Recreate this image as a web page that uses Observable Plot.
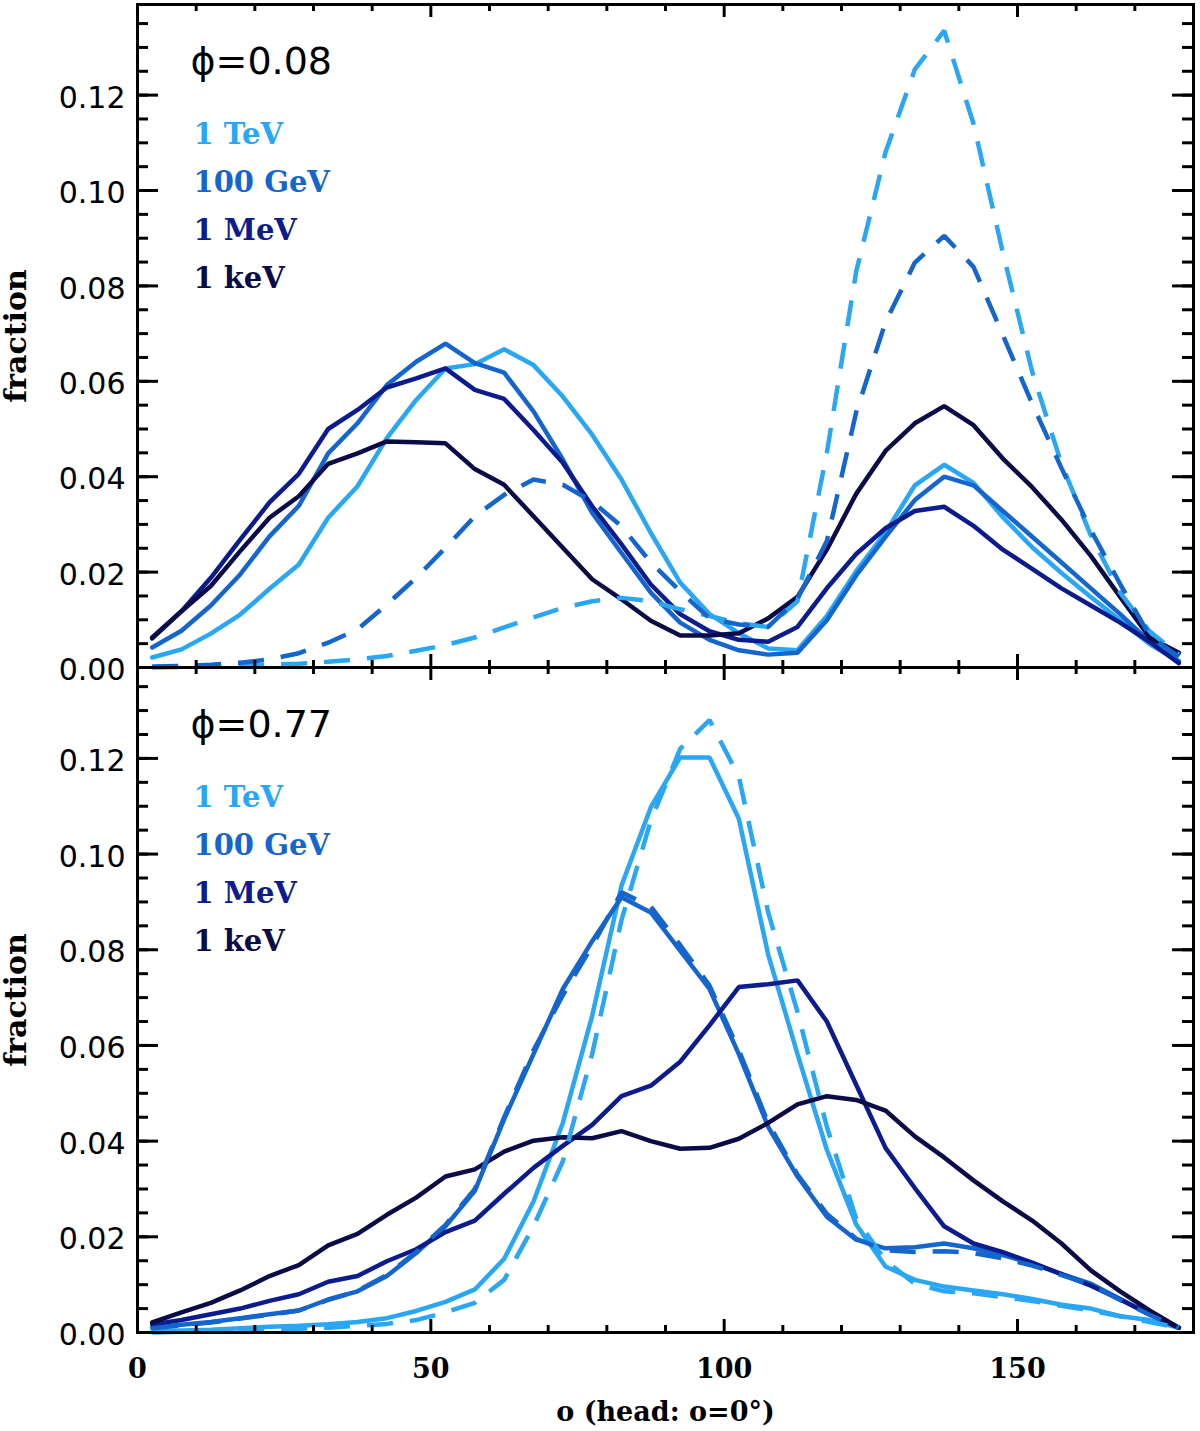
<!DOCTYPE html>
<html>
<head>
<meta charset="utf-8">
<script src="https://cdn.jsdelivr.net/npm/d3@7"></script>
<script src="https://cdn.jsdelivr.net/npm/@observablehq/plot@0.6"></script>
<style>
  body { margin: 0; background: white; }
  #chart { position: relative; width: 1200px; height: 1431px; }
  #chart svg { position: absolute; left: 0; overflow: visible; background: none; }
</style>
</head>
<body>
<div id="chart"></div>
<script>
const angles = [2.5, 7.5, 12.5, 17.5, 22.5, 27.5, 32.5, 37.5, 42.5, 47.5, 52.5, 57.5,
  62.5, 67.5, 72.5, 77.5, 82.5, 87.5, 92.5, 97.5, 102.5, 107.5, 112.5, 117.5,
  122.5, 127.5, 132.5, 137.5, 142.5, 147.5, 152.5, 157.5, 162.5, 167.5, 172.5, 177.5];
const energies = ["1 TeV", "100 GeV", "1 MeV", "1 keV"];
const colors = ["#29a6f4", "#1565cf", "#0c1c8e", "#0b0b48"];

const xMajor = [0, 50, 100, 150];
const xMinor = [10, 20, 30, 40, 60, 70, 80, 90, 110, 120, 130, 140, 160, 170];
const yMajor = [0, 0.02, 0.04, 0.06, 0.08, 0.10, 0.12];
const yMinor = d3.range(0.005, 0.136, 0.005);
const xTitle = "o (head: o=0°)";
const yTitle = "fraction";

// phase 0.08, solid
const p08TeV = [0.0021, 0.0038, 0.0071, 0.0111, 0.0165, 0.0216, 0.0314, 0.0380, 0.0481, 0.0561, 0.0627, 0.0636,
  0.0667, 0.0634, 0.0568, 0.0488, 0.0394, 0.0282, 0.0178, 0.0112, 0.0072, 0.0040, 0.0036, 0.0108,
  0.0202, 0.0283, 0.0382, 0.0425, 0.0387, 0.0315, 0.0252, 0.0198, 0.0148, 0.0099, 0.0049, 0.0013];
const p08GeV = [0.0042, 0.0077, 0.0130, 0.0195, 0.0275, 0.0339, 0.0449, 0.0512, 0.0592, 0.0641, 0.0679, 0.0638,
  0.0618, 0.0537, 0.0436, 0.0324, 0.0240, 0.0157, 0.0094, 0.0058, 0.0036, 0.0027, 0.0031, 0.0099,
  0.0193, 0.0274, 0.0351, 0.0400, 0.0382, 0.0328, 0.0274, 0.0220, 0.0166, 0.0112, 0.0054, 0.0013];
const p08MeV = [0.0063, 0.0118, 0.0188, 0.0268, 0.0346, 0.0406, 0.0500, 0.0540, 0.0587, 0.0606, 0.0627, 0.0582,
  0.0563, 0.0498, 0.0429, 0.0338, 0.0258, 0.0174, 0.0112, 0.0076, 0.0058, 0.0054, 0.0085, 0.0166,
  0.0238, 0.0292, 0.0328, 0.0337, 0.0297, 0.0247, 0.0207, 0.0166, 0.0130, 0.0094, 0.0054, 0.0009];
const p08keV = [0.0061, 0.0118, 0.0171, 0.0244, 0.0314, 0.0359, 0.0427, 0.0449, 0.0474, 0.0472, 0.0470, 0.0416,
  0.0383, 0.0317, 0.0251, 0.0185, 0.0143, 0.0098, 0.0067, 0.0067, 0.0072, 0.0103, 0.0148, 0.0247,
  0.0364, 0.0454, 0.0512, 0.0548, 0.0508, 0.0438, 0.0378, 0.0310, 0.0234, 0.0148, 0.0063, 0.0031];
// phase 0.08, dashed
const p08TeVd = [0.0000, 0.0001, 0.0002, 0.0003, 0.0006, 0.0008, 0.0012, 0.0017, 0.0024, 0.0035, 0.0047, 0.0063,
  0.0084, 0.0105, 0.0125, 0.0139, 0.0146, 0.0139, 0.0122, 0.0108, 0.0093, 0.0085, 0.0139, 0.0450,
  0.0830, 0.1080, 0.1254, 0.1335, 0.1140, 0.0870, 0.0620, 0.0427, 0.0277, 0.0157, 0.0076, 0.0027];
const p08GeVd = [0.0002, 0.0003, 0.0006, 0.0010, 0.0017, 0.0030, 0.0052, 0.0080, 0.0132, 0.0188, 0.0251, 0.0317,
  0.0362, 0.0394, 0.0383, 0.0348, 0.0296, 0.0220, 0.0160, 0.0103, 0.0090, 0.0085, 0.0144, 0.0265,
  0.0535, 0.0724, 0.0849, 0.0905, 0.0840, 0.0697, 0.0553, 0.0418, 0.0288, 0.0175, 0.0067, 0.0022];

// phase 0.77, solid
const p77TeV = [0.0002, 0.0004, 0.0006, 0.0009, 0.0012, 0.0014, 0.0017, 0.0022, 0.0030, 0.0045, 0.0064, 0.0090,
  0.0154, 0.0274, 0.0438, 0.0662, 0.0934, 0.1098, 0.1202, 0.1202, 0.1074, 0.0790, 0.0582, 0.0382,
  0.0226, 0.0138, 0.0110, 0.0096, 0.0088, 0.0080, 0.0070, 0.0058, 0.0050, 0.0034, 0.0026, 0.0010];
const p77GeV = [0.0010, 0.0016, 0.0022, 0.0030, 0.0038, 0.0046, 0.0069, 0.0086, 0.0118, 0.0166, 0.0222, 0.0296,
  0.0446, 0.0582, 0.0718, 0.0818, 0.0910, 0.0878, 0.0798, 0.0718, 0.0582, 0.0430, 0.0326, 0.0242,
  0.0194, 0.0176, 0.0178, 0.0186, 0.0176, 0.0162, 0.0144, 0.0122, 0.0102, 0.0070, 0.0038, 0.0010];
const p77MeV = [0.0017, 0.0026, 0.0038, 0.0050, 0.0066, 0.0080, 0.0106, 0.0118, 0.0149, 0.0174, 0.0210, 0.0234,
  0.0290, 0.0344, 0.0390, 0.0434, 0.0494, 0.0516, 0.0566, 0.0642, 0.0722, 0.0728, 0.0736, 0.0650,
  0.0518, 0.0386, 0.0302, 0.0222, 0.0186, 0.0168, 0.0146, 0.0122, 0.0098, 0.0069, 0.0038, 0.0010];
const p77keV = [0.0021, 0.0042, 0.0062, 0.0088, 0.0118, 0.0141, 0.0182, 0.0206, 0.0246, 0.0282, 0.0326, 0.0341,
  0.0378, 0.0401, 0.0408, 0.0406, 0.0421, 0.0400, 0.0384, 0.0386, 0.0405, 0.0438, 0.0477, 0.0494,
  0.0486, 0.0464, 0.0410, 0.0366, 0.0318, 0.0274, 0.0234, 0.0186, 0.0130, 0.0086, 0.0046, 0.0010];
// phase 0.77, dashed
const p77TeVd = [0.0000, 0.0002, 0.0003, 0.0005, 0.0006, 0.0008, 0.0010, 0.0014, 0.0018, 0.0026, 0.0042, 0.0062,
  0.0110, 0.0222, 0.0358, 0.0582, 0.0862, 0.1070, 0.1220, 0.1280, 0.1162, 0.0878, 0.0670, 0.0430,
  0.0238, 0.0150, 0.0102, 0.0086, 0.0082, 0.0074, 0.0066, 0.0056, 0.0046, 0.0034, 0.0022, 0.0010];
const p77GeVd = [0.0009, 0.0015, 0.0021, 0.0029, 0.0037, 0.0046, 0.0068, 0.0087, 0.0120, 0.0168, 0.0225, 0.0300,
  0.0450, 0.0590, 0.0705, 0.0808, 0.0920, 0.0890, 0.0810, 0.0725, 0.0590, 0.0438, 0.0330, 0.0248,
  0.0196, 0.0172, 0.0168, 0.0170, 0.0166, 0.0155, 0.0140, 0.0120, 0.0100, 0.0068, 0.0037, 0.0010];

const rows = (list) => list.flatMap(([energy, values]) =>
  angles.map((angle, i) => ({angle, fraction: values[i], energy})));

const W = 1200, mLeft = 137, mRight = 7;
const plotW = W - mLeft - mRight;
const serif = "DejaVu Serif", sans = "DejaVu Sans";

function panel({phase, solid, dashed, height, marginTop, marginBottom, bottomAxis}) {
  const plotH = height - marginTop - marginBottom;
  const marks = [
    Plot.line(solid, {x: "angle", y: "fraction", z: "energy", stroke: "energy", strokeWidth: 4.5, strokeLinejoin: "miter"}),
    Plot.line(dashed, {x: "angle", y: "fraction", z: "energy", stroke: "energy", strokeWidth: 4.5,
      strokeLinejoin: "miter", strokeLinecap: "butt", strokeDasharray: "26,17"}),
    // inward ticks on all four sides
    Plot.tickY(yMinor, {strokeWidth: 3, insetRight: plotW - 11}),
    Plot.tickY(yMinor, {strokeWidth: 3, insetLeft: plotW - 11}),
    Plot.tickY(yMajor, {strokeWidth: 3, insetRight: plotW - 21}),
    Plot.tickY(yMajor, {strokeWidth: 3, insetLeft: plotW - 21}),
    Plot.tickX(xMinor, {strokeWidth: 3, insetTop: plotH - 7}),
    Plot.tickX(xMinor, {strokeWidth: 3, insetBottom: plotH - 7}),
    Plot.tickX(xMajor, {strokeWidth: 3, insetTop: plotH - 13}),
    Plot.tickX(xMajor, {strokeWidth: 3, insetBottom: plotH - 13}),
    Plot.frame({strokeWidth: 3}),
    Plot.axisY(yMajor, {tickSize: 0, tickPadding: 12, tickFormat: d3.format(".2f"), label: null,
      fontSize: 30, fontFamily: sans, dy: 3}),
    Plot.text([yTitle], {frameAnchor: "left", dx: -121, rotate: -90, textAnchor: "middle",
      fontSize: 30, fontFamily: serif, fontWeight: "bold"}),
    Plot.text([phase], {frameAnchor: "top-left", dx: 53, dy: 69, textAnchor: "start", lineAnchor: "bottom",
      fontSize: 38, fontFamily: sans}),
    ...energies.map((e, i) => Plot.text([e], {frameAnchor: "top-left", dx: 56, dy: 139 + i * 48,
      textAnchor: "start", lineAnchor: "bottom", fill: colors[i],
      fontSize: 29, fontFamily: serif, fontWeight: "bold"}))
  ];
  if (bottomAxis) {
    marks.push(
      Plot.axisX(xMajor, {tickSize: 0, tickPadding: 26, label: null,
        fontSize: 27, fontFamily: serif, fontWeight: "bold"}),
      Plot.text([xTitle], {frameAnchor: "bottom", dy: 88, lineAnchor: "bottom",
        fontSize: 27, fontFamily: serif, fontWeight: "bold"})
    );
  }
  return Plot.plot({
    width: W,
    height,
    marginLeft: mLeft,
    marginRight: mRight,
    marginTop,
    marginBottom,
    style: {fontFamily: serif, color: "black", background: "none", overflow: "visible"},
    x: {domain: [0, 180], axis: null},
    y: {domain: [0, 0.139], axis: null},
    color: {domain: energies, range: colors},
    marks
  });
}

const upperPanel = panel({
  phase: "ϕ=0.08",
  solid: rows([["1 TeV", p08TeV], ["100 GeV", p08GeV], ["1 MeV", p08MeV], ["1 keV", p08keV]]),
  dashed: rows([["1 TeV", p08TeVd], ["100 GeV", p08GeVd]]),
  height: 667, marginTop: 4, marginBottom: 0, bottomAxis: false
});
const lowerPanel = panel({
  phase: "ϕ=0.77",
  solid: rows([["1 TeV", p77TeV], ["100 GeV", p77GeV], ["1 MeV", p77MeV], ["1 keV", p77keV]]),
  dashed: rows([["1 TeV", p77TeVd], ["100 GeV", p77GeVd]]),
  height: 764, marginTop: 0, marginBottom: 99, bottomAxis: true
});

const chart = d3.select("#chart");
chart.append(() => upperPanel).style("top", "0px");
chart.append(() => lowerPanel).style("top", "667px");
</script>
</body>
</html>
